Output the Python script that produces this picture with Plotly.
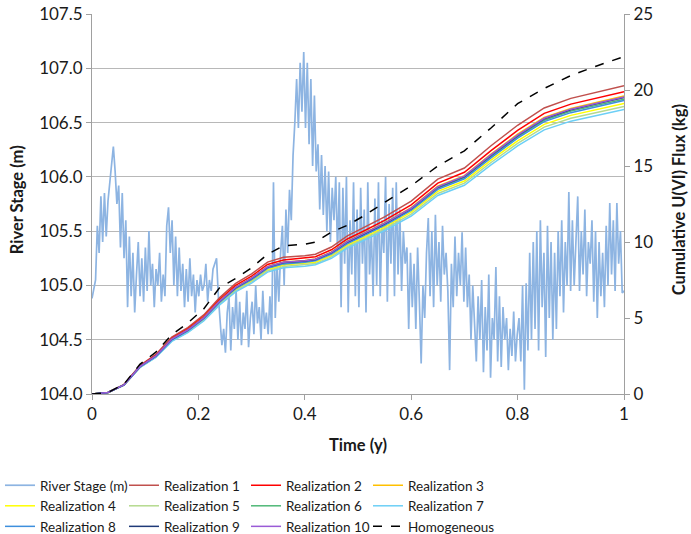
import numpy as np
import plotly.graph_objects as go

# River stage (m) at roughly even time spacing
river_stage = [
    104.88, 104.97, 105.05, 105.55, 105.30, 105.82, 105.40, 105.85, 105.45, 105.78,
    105.95, 106.10, 106.28, 106.05, 105.75, 105.92, 105.35, 105.85, 105.25, 105.60,
    104.80, 105.45, 104.90, 105.30, 104.75, 105.10, 105.40, 104.90, 105.25, 104.85,
    105.35, 104.95, 105.50, 105.00, 105.20, 104.80, 105.15, 105.00, 105.30, 104.85,
    105.10, 104.90, 105.55, 105.72, 105.30, 105.60, 105.00, 105.45, 104.90, 105.35,
    104.95, 105.20, 104.80, 105.15, 104.85, 105.25, 104.90, 105.10, 104.75, 105.05,
    104.90, 105.10, 104.95, 105.00, 105.20, 104.85, 105.05, 104.95, 105.15, 105.20,
    105.25, 104.90, 104.70, 104.45, 104.60, 104.38, 104.75, 104.90, 104.40, 104.80,
    104.60, 104.95, 104.50, 104.85, 104.45, 104.75, 104.60, 104.95, 104.43, 104.70,
    104.85, 104.55, 105.00, 104.65, 104.80, 104.50, 104.95, 104.60, 104.75, 104.55,
    104.90, 104.55, 105.95, 104.70, 105.20, 104.85, 105.30, 105.55, 105.00, 105.70,
    105.30, 105.88, 105.60, 106.20, 106.50, 106.90, 106.45, 107.05, 106.60, 107.15,
    106.45, 107.05, 106.30, 106.90, 106.10, 106.75, 106.05, 106.30, 105.70, 106.20,
    105.65, 106.10, 105.50, 106.05, 105.40, 105.90, 105.60, 106.00, 105.30, 105.95,
    104.80, 105.90, 105.20, 106.00, 104.75, 105.60, 105.10, 105.95, 104.90, 105.70,
    104.80, 105.90, 105.20, 105.70, 104.75, 105.95, 105.10, 105.50, 104.90, 105.80,
    105.00, 105.95, 104.90, 105.60, 105.30, 106.00, 104.85, 105.75, 105.20, 105.90,
    104.90, 105.95, 105.10, 105.70, 104.95, 105.50, 105.20, 105.35, 104.60, 105.30,
    104.80, 105.20, 104.60, 105.35, 104.85, 104.28, 105.00, 104.70, 105.30, 105.62,
    104.90, 105.50, 104.80, 105.65, 105.00, 105.40, 104.85, 105.55, 105.10, 105.30,
    104.95, 104.22, 105.20, 104.80, 105.45, 104.90, 105.30, 105.00, 105.49, 104.85,
    105.35, 104.80, 105.10, 104.50, 105.00, 104.60, 104.30, 104.90, 104.50, 105.05,
    104.20, 104.80, 104.40, 105.10, 104.15, 104.70, 104.50, 105.17, 104.30, 104.90,
    104.25, 104.80, 104.50, 104.70, 104.22, 104.60, 104.35, 104.76, 104.30, 104.55,
    104.70, 104.30, 105.00, 104.04, 105.02, 104.40, 105.30, 104.50, 105.40, 104.60,
    105.50, 104.40, 105.60, 104.80, 105.30, 104.34, 105.55, 104.70, 105.40, 104.50,
    105.30, 104.60, 105.50, 104.90, 105.60, 104.75, 105.40, 105.00, 105.86, 104.95,
    105.60, 105.00, 105.40, 105.82, 104.95, 105.50, 105.10, 105.70, 104.90, 105.40,
    105.20, 105.60, 104.85, 105.50, 104.70, 105.40, 104.90, 105.30, 104.80, 105.55,
    105.00, 105.76, 105.10, 105.60, 104.95, 105.76, 105.20, 105.50, 104.93, 104.95,
]
river_time = np.linspace(0, 1, len(river_stage))

# Cumulative U(VI) flux (kg)
flux_time = [0, 0.03, 0.06, 0.09, 0.12, 0.15, 0.18, 0.21, 0.24, 0.27, 0.30, 0.33, 0.36, 0.40,
             0.42, 0.45, 0.48, 0.51, 0.55, 0.60, 0.65, 0.70, 0.75, 0.80, 0.85, 0.90, 0.95, 1.0]
real_1 = [0, 0.1, 0.62, 1.87, 2.6, 3.74, 4.37, 5.2, 6.34, 7.28, 7.9, 8.68, 9.0, 9.1, 9.2, 9.67,
          10.4, 10.92, 11.65, 12.69, 14.14, 14.87, 16.33, 17.68, 18.82, 19.45, 19.86, 20.28]
real_2 = [0, 0.1, 0.61, 1.84, 2.55, 3.67, 4.28, 5.1, 6.22, 7.14, 7.75, 8.52, 8.82, 8.93, 9.03, 9.49,
          10.2, 10.71, 11.42, 12.44, 13.87, 14.59, 16.01, 17.34, 18.46, 19.07, 19.48, 19.89]
real_3 = [0, 0.1, 0.6, 1.81, 2.51, 3.62, 4.22, 5.03, 6.13, 7.04, 7.64, 8.39, 8.69, 8.79, 8.89, 9.35,
          10.05, 10.55, 11.26, 12.26, 13.67, 14.37, 15.78, 17.09, 18.19, 18.79, 19.2, 19.6]
real_4 = [0, 0.1, 0.59, 1.76, 2.45, 3.53, 4.12, 4.9, 5.98, 6.86, 7.45, 8.18, 8.48, 8.58, 8.67, 9.11,
          9.8, 10.29, 10.98, 11.96, 13.33, 14.01, 15.39, 16.66, 17.74, 18.33, 18.72, 19.11]
real_5 = [0, 0.1, 0.58, 1.75, 2.43, 3.49, 4.07, 4.85, 5.92, 6.79, 7.37, 8.1, 8.39, 8.49, 8.58, 9.02,
          9.7, 10.19, 10.86, 11.83, 13.19, 13.87, 15.23, 16.49, 17.56, 18.14, 18.53, 18.92]
real_6 = [0, 0.1, 0.6, 1.79, 2.49, 3.58, 4.18, 4.98, 6.07, 6.97, 7.56, 8.31, 8.61, 8.71, 8.81, 9.25,
          9.95, 10.45, 11.14, 12.14, 13.53, 14.23, 15.62, 16.92, 18.01, 18.61, 19.0, 19.4]
real_7 = [0, 0.1, 0.58, 1.73, 2.4, 3.46, 4.03, 4.8, 5.86, 6.72, 7.3, 8.02, 8.3, 8.4, 8.5, 8.93,
          9.6, 10.08, 10.75, 11.71, 13.06, 13.73, 15.07, 16.32, 17.38, 17.95, 18.34, 18.72]
real_8 = [0, 0.1, 0.59, 1.78, 2.48, 3.56, 4.16, 4.95, 6.04, 6.93, 7.52, 8.27, 8.56, 8.66, 8.76, 9.21,
          9.9, 10.4, 11.09, 12.08, 13.46, 14.16, 15.54, 16.83, 17.92, 18.51, 18.91, 19.31]
real_9 = [0, 0.1, 0.6, 1.8, 2.5, 3.6, 4.2, 5.0, 6.1, 7.0, 7.6, 8.35, 8.65, 8.75, 8.85, 9.3,
          10.0, 10.5, 11.2, 12.2, 13.6, 14.3, 15.7, 17.0, 18.1, 18.7, 19.1, 19.5]
real_10 = [0, 0.1, 0.6, 1.8, 2.51, 3.61, 4.21, 5.01, 6.11, 7.01, 7.62, 8.37, 8.67, 8.77, 8.87, 9.32,
           10.02, 10.52, 11.22, 12.22, 13.63, 14.33, 15.73, 17.03, 18.14, 18.74, 19.14, 19.54]
homogeneous = [0, 0.1, 0.65, 1.95, 2.75, 3.9, 4.67, 5.6, 7.0, 7.6, 8.3, 9.2, 9.75, 9.85, 10.0, 10.65,
               11.1, 11.7, 12.6, 13.7, 15.0, 16.0, 17.5, 19.1, 20.1, 20.95, 21.6, 22.2]

realizations = [real_1, real_2, real_3, real_4, real_5, real_6, real_7, real_8, real_9, real_10]
real_names = ["Realization %d" % i for i in range(1, 11)]
real_colors = ["#C0504D", "#FF0000", "#FFC000", "#FFFF00", "#B5DA8E",
               "#4FB877", "#6CCFF6", "#3D8FDD", "#1F3A78", "#9A5BD6"]
# legend column (1-4) of each realization, as in the reference's 4-column legend
real_legend_col = [2, 3, 4, 1, 2, 3, 4, 1, 2, 3]
legend_ids = {1: "legend", 2: "legend2", 3: "legend3", 4: "legend4"}

fig = go.Figure()
fig.add_trace(go.Scatter(x=river_time, y=river_stage, name="River Stage (m)", mode="lines",
                         line=dict(color="#8DB4E2", width=1.7), legend="legend"))
for vals, nm, col, lc in zip(realizations, real_names, real_colors, real_legend_col):
    fig.add_trace(go.Scatter(x=flux_time, y=vals, name=nm, mode="lines", yaxis="y2",
                             line=dict(color=col, width=1.5), legend=legend_ids[lc]))
fig.add_trace(go.Scatter(x=flux_time, y=homogeneous, name="Homogeneous", mode="lines", yaxis="y2",
                         line=dict(color="black", width=1.5, dash="dash"), legend="legend4"))

font = "Lato"
axis_col = "#A0A0A0"
tickfont = dict(family=font, size=17, color="#1a1a1a")
titlefont = dict(family=font, size=16.5, color="#1a1a1a")
leg_font = dict(family=font, size=13.5, color="#1a1a1a")
leg_y = 0.1199


def leg(xpx):
    return dict(orientation="v", xref="container", yref="container", x=xpx / 691.0,
                xanchor="left", y=leg_y, yanchor="top", font=leg_font,
                traceorder="normal", bgcolor="rgba(0,0,0,0)")


fig.update_layout(
    width=691, height=534,
    margin=dict(l=92, r=67, t=14, b=140, autoexpand=False),
    plot_bgcolor="white", paper_bgcolor="white",
    font=dict(family=font, size=15, color="#1a1a1a"),
    xaxis=dict(range=[0, 1], dtick=0.2, showgrid=False, showline=True, linecolor=axis_col,
               ticks="outside", ticklen=5, tickcolor=axis_col, zeroline=False, tickfont=tickfont,
               title=dict(text="<b>Time (y)</b>", standoff=16, font=titlefont)),
    yaxis=dict(range=[104, 107.5], dtick=0.5, tickformat=".1f", showgrid=True, gridcolor="#B8B8B8",
               showline=True, linecolor=axis_col, ticks="outside", ticklen=5, tickcolor=axis_col,
               zeroline=False, tickfont=tickfont),
    yaxis2=dict(range=[0, 25], dtick=5, overlaying="y", side="right", showgrid=False,
                showline=True, linecolor=axis_col, ticks="outside", ticklen=5, tickcolor=axis_col,
                zeroline=False, tickfont=tickfont),
    annotations=[
        dict(text="<b>River Stage (m)</b>", textangle=-90, xref="paper", yref="paper",
             x=(17 - 92) / 532.0, y=0.51, xanchor="center", yanchor="middle", showarrow=False,
             font=titlefont),
        dict(text="<b>Cumulative U(VI) Flux (kg)</b>", textangle=-90, xref="paper", yref="paper",
             x=(679 - 92) / 532.0, y=0.51, xanchor="center", yanchor="middle", showarrow=False,
             font=titlefont),
    ],
    legend=leg(0),
    legend2=leg(124),
    legend3=leg(246),
    legend4=leg(368),
    showlegend=True,
)
fig.write_html("out.html")
